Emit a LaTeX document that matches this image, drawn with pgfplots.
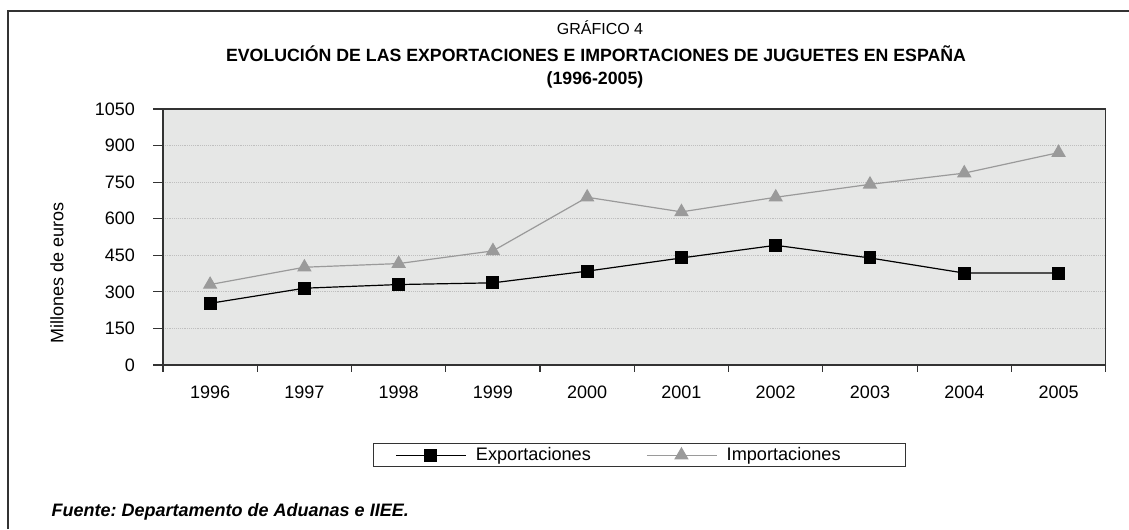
\documentclass[border=0pt]{standalone}
\usepackage{fontspec}
\setmainfont{Liberation Sans}
\usepackage{pgfplots}
\pgfplotsset{compat=1.18}
\definecolor{bg}{HTML}{E6E7E6}
\definecolor{imp}{HTML}{9A9A9A}
\definecolor{frame}{HTML}{333333}
\frenchspacing
\begin{document}
\begin{tikzpicture}[x=0.75pt,y=0.75pt]
\useasboundingbox (0,0) rectangle (1129,529);
\draw[line width=1.3pt, frame] (8,0) -- (8,518) -- (1129,518);
\node[anchor=base, font=\fontsize{12}{14}\selectfont] at (600,494) {GRÁFICO 4};
\node[anchor=base, font=\fontsize{13.3}{15}\selectfont\bfseries] at (596,467) {EVOLUCIÓN DE LAS EXPORTACIONES E IMPORTACIONES DE JUGUETES EN ESPAÑA};
\node[anchor=base, font=\fontsize{13.3}{15}\selectfont\bfseries] at (595,444) {(1996-2005)};
\node[rotate=90, font=\fontsize{13.5}{15}\selectfont] at (57,256) {Millones de euros};
\node[anchor=base west, font=\fontsize{13.5}{15}\selectfont\bfseries\itshape] at (47,13) {Fuente: Departamento de Aduanas e IIEE.};
\begin{axis}[
  at={(122.25pt,123pt)}, anchor=south west,
  width=707pt, height=192pt, scale only axis,
  xmin=0, xmax=10, ymin=0, ymax=1050,
  ytick={0,150,...,1050},
  xtick={0.5,1.5,...,9.5},
  xticklabels={1996,1997,1998,1999,2000,2001,2002,2003,2004,2005},
  minor xtick={0,1,...,10},
  tick pos=left,
  tick align=outside,
  major tick length=7.5pt,
  minor tick length=5pt,
  x tick style={draw=none},
  minor x tick style={draw=frame, line width=0.9pt},
  y tick style={draw=frame, line width=0.9pt},
  ymajorgrids,
  grid style={densely dotted, gray!50, line width=0.6pt},
  axis background/.style={fill=bg},
  axis line style={frame, line width=1pt},
  /pgf/number format/assume math mode=true,
  /pgf/number format/1000 sep={},
  tick label style={font=\fontsize{13.5}{15}\selectfont},
  xticklabel style={yshift=-4.5pt},
  yticklabel style={xshift=-10pt},
  legend columns=2,
  legend style={at={(0.2225,-0.3059)}, anchor=north west,
    draw=frame, line width=0.6pt, fill=white,
    font=\fontsize{13.6}{16}\selectfont,
    nodes={inner sep=0pt},
    inner xsep=16.7pt, inner ysep=3pt,
    /tikz/every even column/.append style={column sep=41.5pt}},
  legend image code/.code={%
    \draw[#1, mark repeat=2, mark phase=2] plot coordinates {(0pt,0pt) (26pt,0pt) (52.5pt,0pt)};
    \path (59.5pt,0pt);},
  clip=false,
]
\addplot[black, line width=0.9pt, mark=square*, mark size=4.4pt, mark options={solid, fill=black}]
  coordinates {(0.5,253) (1.5,315) (2.5,330) (3.5,337) (4.5,385) (5.5,439) (6.5,491) (7.5,439) (8.5,377) (9.5,377)};
\addlegendentry{Exportaciones}
\addplot[imp, line width=0.9pt, mark=triangle*, mark size=5.4pt, mark options={solid, fill=imp, draw=imp}]
  coordinates {(0.5,330) (1.5,401) (2.5,416) (3.5,468) (4.5,688) (5.5,628) (6.5,688) (7.5,741) (8.5,787) (9.5,871)};
\addlegendentry{Importaciones\kern32pt}
\end{axis}
\end{tikzpicture}
\end{document}
